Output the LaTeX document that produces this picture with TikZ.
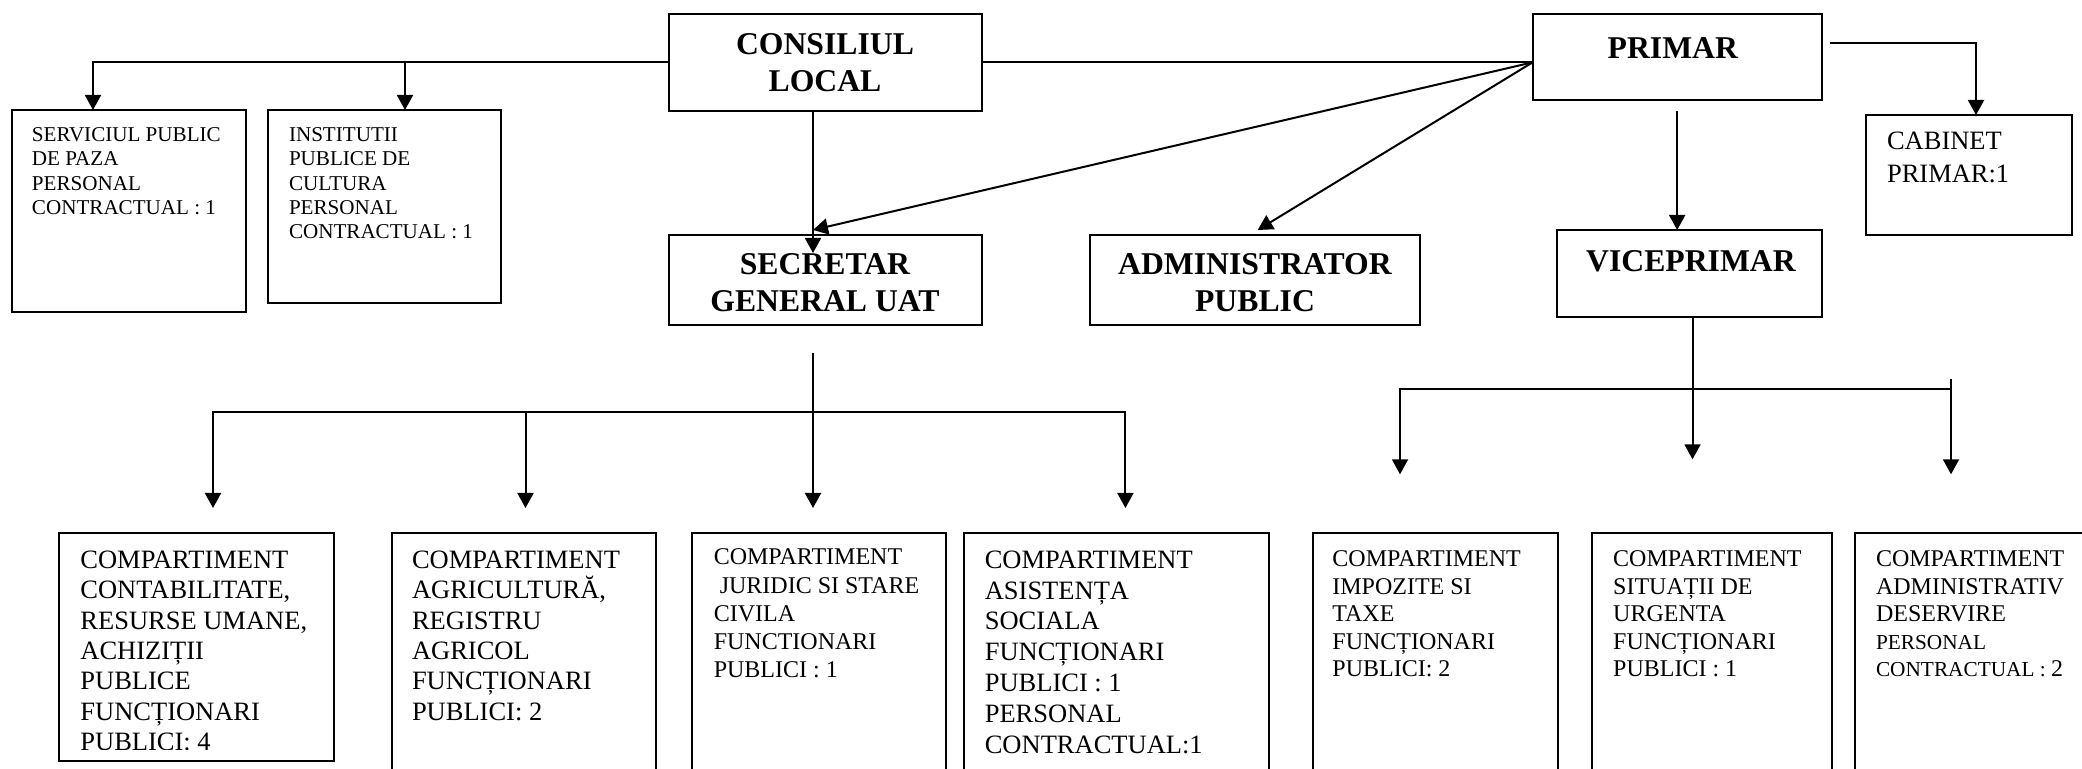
\documentclass[tikz,border=0pt]{standalone}
\usepackage{fontspec}
\setmainfont{Liberation Serif}
\usetikzlibrary{arrows.meta,calc}
\tikzset{
  bx/.style={draw, line width=1pt, inner sep=0pt, outer sep=0pt, anchor=north west},
  tx/.style={inner sep=0pt, outer sep=0pt},
  ln/.style={line width=1pt},
  arr/.style={ln, -{Triangle[length=7.5pt,width=8pt]}}
}
\newcommand\boxat[5]{\node[bx,minimum width={(#4-#2)*0.5pt},minimum height={(#5-#3)*0.5pt}] (#1) at (#2,#3) {};}
\newcommand\smallt{\fontsize{10.55}{12.15}\selectfont}
\newcommand\titlet{\fontsize{15.85}{18.35}\selectfont\bfseries}
\newcommand\bigt{\fontsize{13.25}{15.2}\selectfont}
\newcommand\medt{\fontsize{12}{13.75}\selectfont}
\begin{document}
\begin{tikzpicture}[x=0.5pt,y=-0.5pt]
\useasboundingbox (0,0) rectangle (2082,769);
% boxes
\boxat{serv}{12}{110}{245.5}{311.7}
\boxat{inst}{268}{110}{501}{302.7}
\boxat{cl}{669}{14}{981.6}{110.7}
\boxat{sg}{669}{235}{981.6}{325}
\boxat{ap}{1090}{235}{1420}{325}
\boxat{pr}{1532.6}{14}{1821.7}{100}
\boxat{cab}{1866}{115}{2071.7}{235}
\boxat{vp}{1557}{230}{1821.7}{316.7}
\boxat{b1}{59.4}{532.7}{333.5}{760.7}
\boxat{b2}{391.5}{532.7}{656}{800}
\boxat{b3}{692.4}{532.7}{946}{800}
\boxat{b4}{963.8}{532.7}{1269}{800}
\boxat{b5}{1312.5}{532.7}{1558}{800}
\boxat{b6}{1591.8}{532.7}{1832}{800}
\boxat{b7}{1855}{532.7}{2120}{800}
% texts
\node[tx,anchor=base west] (servt) at (32,141.7) {\parbox[t]{300pt}{\smallt SERVICIUL PUBLIC\\DE PAZA\\PERSONAL\\CONTRACTUAL : 1}};
\node[tx,anchor=base west] (instt) at (289,141.7) {\parbox[t]{300pt}{\smallt INSTITUTII\\PUBLICE DE\\CULTURA\\PERSONAL\\CONTRACTUAL : 1}};
\node[tx,anchor=base] (clt) at (825,55) {\parbox[t]{200pt}{\centering\titlet CONSILIUL\\LOCAL}};
\node[tx,anchor=base] (sgt) at (825,275) {\parbox[t]{200pt}{\centering\titlet SECRETAR\\GENERAL UAT}};
\node[tx,anchor=base] (apt) at (1255,275) {\parbox[t]{200pt}{\centering\titlet ADMINISTRATOR\\PUBLIC}};
\node[tx,anchor=base] (prt) at (1672.8,58.3) {\parbox[t]{200pt}{\centering\titlet PRIMAR}};
\node[tx,anchor=base] (vpt) at (1691,271.7) {\parbox[t]{200pt}{\centering\titlet VICEPRIMAR}};
\node[tx,anchor=base west] (cabt) at (1887,150) {\parbox[t]{300pt}{\fontsize{13.25}{16.5}\selectfont CABINET\\PRIMAR:1}};
\begin{scope}
\clip (b1.north west) rectangle ($(b1.south east)+(0,-11)$);
\node[tx,anchor=base west] (b1t) at (80.4,568.3) {\parbox[t]{300pt}{\bigt COMPARTIMENT\\CONTABILITATE,\\RESURSE UMANE,\\ACHIZIȚII\\PUBLICE\\FUNCȚIONARI\\PUBLICI: 4}};
\end{scope}
\node[tx,anchor=base west] (b2t) at (412,568.3) {\parbox[t]{300pt}{\bigt COMPARTIMENT\\AGRICULTURĂ,\\REGISTRU\\AGRICOL\\FUNCȚIONARI\\PUBLICI: 2}};
\node[tx,anchor=base west] (b3t) at (713.8,565) {\parbox[t]{300pt}{\fontsize{12}{14.1}\selectfont COMPARTIMENT\\\hspace*{0.25em}JURIDIC SI STARE\\CIVILA\\FUNCTIONARI\\PUBLICI : 1}};
\node[tx,anchor=base west] (b4t) at (984.8,568.3) {\parbox[t]{300pt}{\fontsize{13.25}{15.4}\selectfont COMPARTIMENT\\ASISTENȚA\\SOCIALA\\FUNCȚIONARI\\PUBLICI : 1\\PERSONAL\\CONTRACTUAL:1}};
\node[tx,anchor=base west] (b5t) at (1332.4,566.7) {\parbox[t]{300pt}{\medt COMPARTIMENT\\IMPOZITE SI\\TAXE\\FUNCȚIONARI\\PUBLICI: 2}};
\node[tx,anchor=base west] (b6t) at (1613.2,566.7) {\parbox[t]{300pt}{\medt COMPARTIMENT\\SITUAȚII DE\\URGENTA\\FUNCȚIONARI\\PUBLICI : 1}};
\node[tx,anchor=base west] (b7t) at (1876,566.7) {\parbox[t]{300pt}{\medt COMPARTIMENT\\ADMINISTRATIV\\DESERVIRE\\{\fontsize{10.65}{13.75}\selectfont PERSONAL}\\{\fontsize{10.65}{13.75}\selectfont CONTRACTUAL : }2}};
% connectors: top
\coordinate (pj) at (cl.east -| pr.west);
\draw[ln] (cl.east) -- (pj);
\coordinate (sb) at ($(serv.north west)+(81,0)$);
\coordinate (ib) at ($(inst.north west)+(137,0)$);
\draw[arr] (cl.west) -| (sb);
\draw[arr] (cl.west -| ib) -- (ib);
\coordinate (cx) at ($(cl.south west)+(144,0)$);
\draw[arr] (cx) -- ($(cx |- sg.north)+(0,18)$);
\draw[arr] (pj) -- ($(cx |- sg.north)+(0,-5)$);
\draw[arr] (pj) -- ($(ap.north)+(2.7,-5)$);
\coordinate (pc) at ($(pr.north east)+(8,28.7)$);
\coordinate (cb) at ($(cab.north west)+(110,0)$);
\draw[arr] (pc) -| (cb);
\coordinate (pv) at ($(pr.south)+(0,11)$);
\draw[arr] (pv) -- (pv |- vp.north);
% secretar branch
\coordinate (sd) at ($(sg.south west)+(144,28)$);
\coordinate (a1) at ($(b1.north west)+(153.6,-24.7)$);
\coordinate (a2) at ($(b2.north west)+(134,-24.7)$);
\coordinate (a4) at ($(b4.north west)+(161.6,-24.7)$);
\coordinate (br) at ($(sd)+(0,59.3)$);
\draw[arr] (br) -| (a1);
\draw[arr] (br) -| (a4);
\draw[arr] (br -| a2) -- (a2);
\draw[arr] (sd) -- (sd |- a1);
% viceprimar branch
\coordinate (vd) at ($(vp.south west)+(135.5,0)$);
\coordinate (vb) at ($(vd)+(0,72.3)$);
\coordinate (c1) at ($(b5.north west)+(87.5,-58.4)$);
\coordinate (c3) at ($(b7.north west)+(96,-58.4)$);
\draw[arr] (vd) -- ($(vd)+(0,142.6)$);
\draw[arr] (vb) -| (c1);
\draw[ln] (vb) -- (vb -| c3);
\draw[arr] ($(vb -| c3)+(0,-9.7)$) -- (c3);
\end{tikzpicture}
\end{document}
